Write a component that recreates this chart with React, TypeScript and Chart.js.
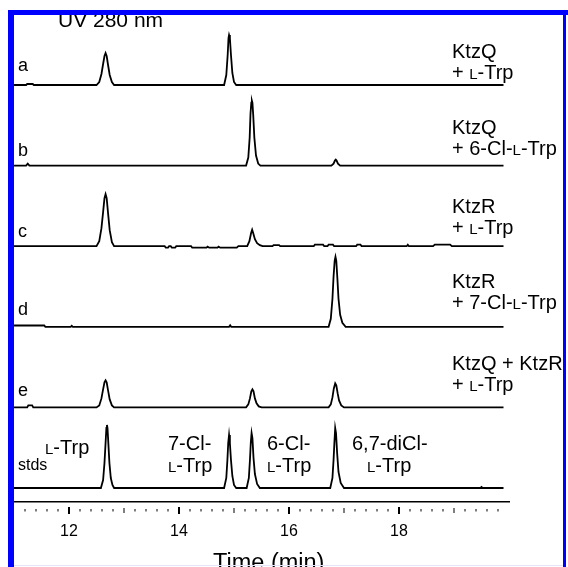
import { useEffect, useRef } from "react";
import { Chart, registerables } from "chart.js";

Chart.register(...registerables);

const FAMILY = "'Liberation Sans', Arial, sans-serif";

// Chromatogram traces: [time (min), absorbance (arb. units)]
const TRACE_A: [number, number][] = [
  [11.0, 0], [11.22, 0], [11.24, 1], [11.34, 1], [11.36, 0],
  [12.5, 0], [12.55, 3], [12.59, 11], [12.62, 21], [12.645, 29], [12.665, 32], [12.685, 29], [12.71, 20], [12.74, 10], [12.78, 3], [12.82, 0],
  [14.82, 0], [14.86, 10], [14.885, 30], [14.9, 47], [14.91, 50], [14.925, 47], [14.945, 30], [14.97, 12], [15.0, 3], [15.04, 0],
  [19.9, 0],
];
const TRACE_B: [number, number][] = [
  [11.0, 0], [11.22, 0], [11.25, 2], [11.28, 0],
  [15.22, 0], [15.26, 8], [15.285, 28], [15.3, 52], [15.315, 63], [15.325, 65], [15.335, 63], [15.35, 50], [15.37, 28], [15.4, 10], [15.44, 2], [15.48, 0],
  [16.77, 0], [16.81, 2], [16.835, 5], [16.85, 6], [16.865, 5], [16.89, 2], [16.93, 0],
  [19.9, 0],
];
const TRACE_C: [number, number][] = [
  [11.0, 0],
  [12.5, 0], [12.55, 5], [12.59, 18], [12.62, 34], [12.645, 48], [12.665, 52], [12.685, 48], [12.71, 33], [12.74, 16], [12.78, 4], [12.82, 0],
  [13.74, 0], [13.76, -1.5], [13.8, -1.5], [13.82, 0], [13.85, 0], [13.87, -1.5], [13.93, -1.5], [13.95, 0],
  [14.22, 0], [14.24, -1.5], [14.5, -1.5], [14.52, -0.5], [14.55, -1.5], [14.7, -1.5], [14.72, -0.5], [14.75, -1.5], [15.05, -1.5], [15.08, 0],
  [15.24, 0], [15.28, 5], [15.31, 13], [15.33, 16.5], [15.35, 13], [15.38, 7], [15.42, 3], [15.47, 1], [15.52, 0],
  [15.7, 0], [15.72, 1], [15.82, 1], [15.84, 0],
  [16.45, 0], [16.47, 1.5], [16.62, 1.5], [16.64, 0], [16.7, 0], [16.72, 1.5], [16.8, 1.5], [16.82, 0],
  [17.22, 0], [17.24, 1.5], [17.3, 1.5], [17.32, 0],
  [18.14, 0], [18.16, 1.5], [18.18, 0],
  [18.62, 0], [18.65, 1.5], [18.93, 1.5], [18.96, 0],
  [19.9, 0],
];
const TRACE_D: [number, number][] = [
  [11.0, 1.3], [11.55, 1.3], [11.57, 0], [12.03, 0], [12.05, 1], [12.07, 0], [14.91, 0], [14.93, 1.5], [14.95, 0],
  [16.72, 0], [16.76, 8], [16.79, 28], [16.81, 50], [16.83, 66], [16.845, 70], [16.86, 66], [16.88, 48], [16.9, 28], [16.93, 12], [16.97, 4], [17.03, 0],
  [19.9, 0],
];
const TRACE_E: [number, number][] = [
  [11.0, 0], [11.24, 0], [11.26, 2], [11.33, 2], [11.35, 0],
  [12.5, 0], [12.55, 2], [12.59, 9], [12.62, 18], [12.645, 25], [12.665, 27], [12.685, 25], [12.71, 17], [12.74, 8], [12.78, 2], [12.82, 0],
  [15.22, 0], [15.26, 3], [15.29, 9], [15.315, 16], [15.335, 18], [15.355, 16], [15.38, 9], [15.41, 4], [15.45, 1], [15.5, 0],
  [16.72, 0], [16.76, 3], [16.79, 10], [16.815, 19], [16.84, 24], [16.86, 22], [16.885, 14], [16.91, 7], [16.95, 2], [17.0, 0],
  [19.9, 0],
];
const TRACE_STDS: [number, number][] = [
  [11.0, 0],
  [12.58, 0], [12.62, 8], [12.645, 25], [12.665, 45], [12.68, 60], [12.69, 63], [12.7, 60], [12.715, 45], [12.735, 25], [12.76, 10], [12.79, 3], [12.82, 0],
  [14.82, 0], [14.86, 10], [14.88, 28], [14.895, 45], [14.91, 53], [14.925, 45], [14.945, 28], [14.97, 12], [15.0, 3], [15.04, 0],
  [15.23, 0], [15.27, 10], [15.29, 28], [15.305, 45], [15.32, 55], [15.335, 50], [15.355, 30], [15.38, 14], [15.42, 4], [15.47, 0],
  [16.75, 0], [16.79, 10], [16.81, 28], [16.825, 45], [16.84, 60], [16.855, 55], [16.875, 35], [16.9, 16], [16.94, 5], [17.0, 0],
  [19.48, 0], [19.5, 1], [19.52, 0], [19.9, 0],
];

const TRACE_LETTERS = ["a", "b", "c", "d", "e", "stds"];
const TRACE_LABELS: string[][] = [
  ["KtzQ", "+ {L}-Trp"],
  ["KtzQ", "+ 6-Cl-{L}-Trp"],
  ["KtzR", "+ {L}-Trp"],
  ["KtzR", "+ 7-Cl-{L}-Trp"],
  ["KtzQ + KtzR", "+ {L}-Trp"],
  [],
];
const STD_NAMES: string[][] = [["{L}-Trp"], ["7-Cl-", "{L}-Trp"], ["6-Cl-", "{L}-Trp"], ["6,7-diCl-", "{L}-Trp"]];
const TICK_LABELS = [12, 14, 16, 18];
const X_TITLE = "Time (min)";
const PANEL_TITLE = "UV 280 nm";

// layout (pixels) for annotations
const LETTER_DY = [-14, -10, -9, -12, -11, -18];
const LABEL_DY = [-6, -11, -12, -18, -16];
const STD_POS: { x: number[]; dy: number[] }[] = [
  { x: [45], dy: [-34] },
  { x: [168, 168], dy: [-38, -16] },
  { x: [267, 267], dy: [-38, -16] },
  { x: [352, 367], dy: [-38, -16] },
];

function drawRich(ctx: CanvasRenderingContext2D, text: string, x: number, y: number, size: number) {
  const parts = text.split(/(\{L\})/);
  let cx = x;
  for (const p of parts) {
    if (!p) continue;
    if (p === "{L}") {
      ctx.font = `${Math.round(size * 0.76)}px ${FAMILY}`;
      ctx.fillText("L", cx, y);
      cx += ctx.measureText("L").width;
    } else {
      ctx.font = `${size}px ${FAMILY}`;
      ctx.fillText(p, cx, y);
      cx += ctx.measureText(p).width;
    }
  }
}

export default function App() {
  const ref = useRef<HTMLCanvasElement>(null);
  useEffect(() => {
    document.body.style.margin = "0";
    const traces = [TRACE_A, TRACE_B, TRACE_C, TRACE_D, TRACE_E, TRACE_STDS];
    const ids = traces.map((_, i) => "y" + i);
    const scales: any = {
      x: {
        type: "linear",
        position: "bottom",
        min: 11,
        max: 20,
        afterBuildTicks: (s: any) => {
          s.ticks = TICK_LABELS.map((v) => ({ value: v }));
        },
        grid: { display: true, drawOnChartArea: false, drawTicks: true, tickLength: 17, color: "rgba(0,0,0,0)" },
        border: { display: true, color: "#000", width: 1.5 },
        ticks: { padding: 3, color: "#000", font: { size: 16, family: FAMILY }, maxRotation: 0, autoSkip: false },
      },
    };
    ids.forEach((id, i) => {
      scales[id] = {
        type: "linear",
        position: "left",
        stack: "traces",
        stackWeight: 1,
        weight: ids.length - i,
        display: false,
        min: -14,
        max: 66.6,
      };
    });

    const deco = {
      id: "deco",
      afterDraw(chart: any) {
        const ctx: CanvasRenderingContext2D = chart.ctx;
        const xs = chart.scales.x;
        const axisY = xs.top;
        ctx.save();
        ctx.fillStyle = "#000";
        // tick marks (gap below the axis line)
        for (let k = 56; k <= 99; k++) {
          const v = k / 5;
          const px = xs.getPixelForValue(v);
          if (k % 10 === 0) ctx.fillRect(px - 1, axisY + 5, 2, 7);
          else if (k % 5 === 0) ctx.fillRect(px - 0.5, axisY + 6, 1, 5);
          else ctx.fillRect(px - 0.5, axisY + 7, 1, 2.5);
        }
        ctx.textBaseline = "alphabetic";
        ctx.textAlign = "left";
        // trace letters & labels
        ids.forEach((id, i) => {
          const base = chart.scales[id].getPixelForValue(0);
          const letter = TRACE_LETTERS[i];
          ctx.font = `${letter === "stds" ? 16 : 18}px ${FAMILY}`;
          ctx.fillText(letter, 18, base + LETTER_DY[i]);
          const lines = TRACE_LABELS[i];
          if (lines.length) {
            const y2 = base + LABEL_DY[i];
            drawRich(ctx, lines[0], 452, y2 - 21, 20);
            drawRich(ctx, lines[1], 452, y2, 20);
          }
        });
        const sBase = chart.scales[ids[ids.length - 1]].getPixelForValue(0);
        STD_NAMES.forEach((lines, i) => {
          lines.forEach((ln, j) => drawRich(ctx, ln, STD_POS[i].x[j], sBase + STD_POS[i].dy[j], 20));
        });
        // titles
        ctx.font = `21px ${FAMILY}`;
        ctx.fillText(PANEL_TITLE, 58, 27);
        ctx.font = `23.5px ${FAMILY}`;
        ctx.fillText(X_TITLE, 213, 570);
        // frame
        ctx.fillStyle = "#0000ff";
        ctx.fillRect(8, 10, 560, 5);
        ctx.fillRect(8, 10, 6, 557);
        ctx.fillRect(563, 10, 3, 557);
        ctx.fillStyle = "#e4e4f8";
        ctx.fillRect(14, 565, 549, 1);
        ctx.restore();
      },
    };

    const chart = new Chart(ref.current as HTMLCanvasElement, {
      type: "line",
      data: {
        datasets: traces.map((tr, i) => ({
          label: TRACE_LETTERS[i],
          data: tr.map(([x, y]) => ({ x, y })),
          yAxisID: ids[i],
          borderColor: "#000",
          borderWidth: 1.8,
          pointRadius: 0,
          tension: 0,
          fill: false,
          clip: false as any,
        })),
      },
      options: {
        responsive: false,
        animation: false,
        devicePixelRatio: 1,
        layout: { padding: { left: 14, right: 59, top: 18.4, bottom: 22.8 } },
        plugins: { legend: { display: false }, tooltip: { enabled: false }, title: { display: false } },
        scales,
      } as any,
      plugins: [deco],
    });
    return () => chart.destroy();
  }, []);
  return (
    <div style={{ width: 568, height: 567, overflow: "hidden", background: "#fff", position: "relative" }}>
      <canvas ref={ref} width={568} height={567} style={{ display: "block" }} />
    </div>
  );
}
